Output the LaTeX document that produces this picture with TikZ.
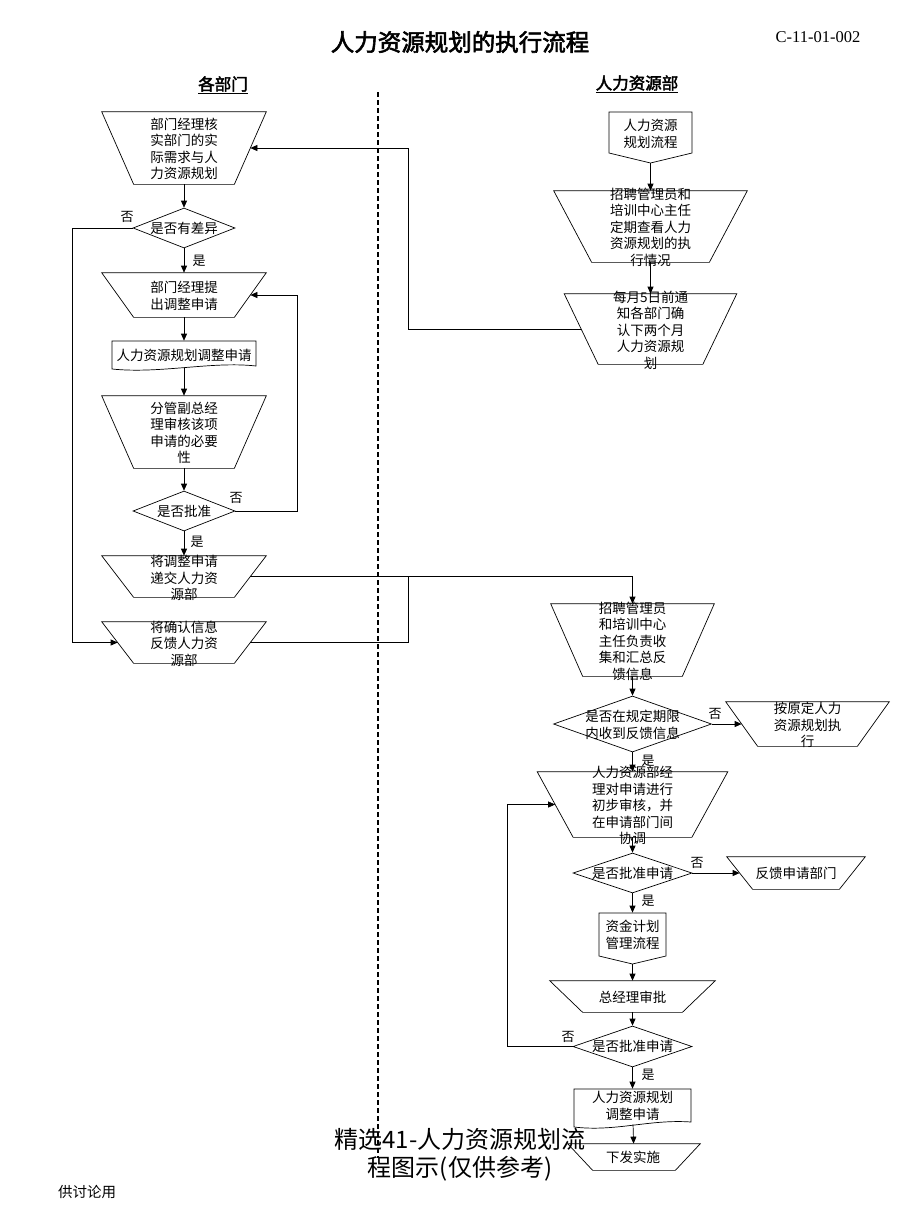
\documentclass[tikz,border=0pt]{standalone}
\usepackage{fontspec}
\setmainfont{Liberation Serif}
\newfontfamily\cjk[AutoFakeBold=2.5]{Noto Sans CJK SC}
\usetikzlibrary{shapes.geometric,arrows.meta,calc}
% trapezoid: name, x, y, top width, height, inset of the bottom corners
\newcommand{\trapz}[6]{%
  \node[box, minimum width=#4pt, minimum height=#5pt] (#1) at (#2,#3) {};
  \draw (#1.north west) -- (#1.north east) -- ([xshift=-#6pt]#1.south east) -- ([xshift=#6pt]#1.south west) -- cycle;}
\begin{document}
\begin{tikzpicture}[x=1pt,y=-1pt,
  line width=0.7pt,
  arr/.style={-{Triangle[length=7pt,width=6pt]}},
  dia/.style={diamond, draw, inner sep=0pt},
  box/.style={draw=none, inner sep=0pt},
  txt/.style={font=\cjk\fontsize{13.5}{16.5}\selectfont, align=center, inner sep=0pt},
  lbl/.style={font=\cjk\fontsize{13}{15}\selectfont, inner sep=0pt},
  head/.style={font=\cjk\bfseries\fontsize{16.5}{18}\selectfont, inner sep=0pt},
]
\fill[white] (0,0) rectangle (920,1227);
\useasboundingbox (0,0) rectangle (920,1227);

% titles
\node[font=\cjk\bfseries\fontsize{23.5}{26}\selectfont, inner sep=0pt] (title) at (460,42) {人力资源规划的执行流程};
\node[font=\fontsize{16.5}{18}\selectfont, inner sep=0pt] (code) at (818,37) {C-11-01-002};
\node[head] (h1) at (223,85) {\underline{各部门}};
\node[head] (h2) at (637,84) {\underline{人力资源部}};

% swimlane divider
\coordinate (dtop) at (378,92);
\coordinate (dbot) at (378,1158);
\draw[line width=1.1pt, dash pattern=on 5pt off 3pt] (dtop) -- (dbot);

% ---------------- left column ----------------
\trapz{A}{184}{148}{164}{72}{32}
\node[txt] (At) at (184,149) {部门经理核\\实部门的实\\际需求与人\\力资源规划};

\node[dia, minimum width=102pt, minimum height=40pt] (D1) at (184,228) {};
\node[txt] (D1t) at (184,228) {是否有差异};

\trapz{B}{184}{295}{164}{44}{32}
\node[txt] (Bt) at (184,296) {部门经理提\\出调整申请};

\node[box, minimum width=144pt, minimum height=27pt] (C) at (184,354.5) {};
\draw (112,341) -- (256,341) -- (256,366) .. controls (212,361) and (160,374) .. (112,369) -- cycle;
\node[txt] (Ct) at (184,355) {人力资源规划调整申请};

\trapz{D}{184}{432}{164}{72}{32}
\node[txt] (Dt) at (184,433) {分管副总经\\理审核该项\\申请的必要\\性};

\node[dia, minimum width=102pt, minimum height=40pt] (D3) at (184,511) {};
\node[txt] (D3t) at (184,511) {是否批准};

\trapz{E}{184}{576.5}{164}{41}{32}
\node[txt] (Et) at (184,578) {将调整申请\\递交人力资\\源部};

\trapz{F}{184}{642.5}{164}{41}{32}
\node[txt] (Ft) at (184,643.5) {将确认信息\\反馈人力资\\源部};

% ---------------- right column (top) ----------------
\node[box, minimum width=83pt, minimum height=51pt] (R1) at (650.5,137.5) {};
\draw (609,112) -- (692,112) -- (692,153) -- (650.5,163) -- (609,153) -- cycle;
\node[txt] (R1t) at (650.5,134) {人力资源\\规划流程};

\trapz{H}{650.5}{226.5}{193}{71}{38}
\node[txt] (Ht) at (650.5,227) {招聘管理员和\\培训中心主任\\定期查看人力\\资源规划的执\\行情况};

\trapz{I}{650.5}{329}{172}{70}{34}
\node[txt] (It) at (650.5,330) {每月5日前通\\知各部门确\\认下两个月\\人力资源规\\划};

% ---------------- right column (bottom) ----------------
\trapz{G}{632.5}{640}{163}{72}{32}
\node[txt] (Gt) at (632.5,641) {招聘管理员\\和培训中心\\主任负责收\\集和汇总反\\馈信息};

\node[dia, minimum width=158pt, minimum height=56pt] (D4) at (632.5,724) {};
\node[txt] (D4t) at (632.5,725) {是否在规定期限\\内收到反馈信息};

\trapz{J}{807.5}{724}{163}{44}{32}
\node[txt] (Jt) at (807.5,725) {按原定人力\\资源规划执\\行};

\trapz{K}{632.5}{804.5}{190}{65}{36}
\node[txt] (Kt) at (632.5,805.5) {人力资源部经\\理对申请进行\\初步审核，并\\在申请部门间\\协调};

\node[dia, minimum width=119pt, minimum height=40pt] (D5) at (632.5,873) {};
\node[txt] (D5t) at (632.5,873) {是否批准申请};

\trapz{L}{796}{873}{138}{32}{26}
\node[txt] (Lt) at (796,873) {反馈申请部门};

\node[box, minimum width=67pt, minimum height=51pt] (M) at (632.5,938.5) {};
\draw (599,913) -- (666,913) -- (666,956) -- (632.5,964) -- (599,956) -- cycle;
\node[txt] (Mt) at (632.5,935) {资金计划\\管理流程};

\trapz{N}{632.5}{996.5}{165}{31}{33}
\node[txt] (Nt) at (632.5,997) {总经理审批};

\node[dia, minimum width=119pt, minimum height=41pt] (D6) at (632.5,1046.5) {};
\node[txt] (D6t) at (632.5,1046.5) {是否批准申请};

\node[box, minimum width=117pt, minimum height=35pt] (O) at (632.5,1106.5) {};
\draw (574,1089) -- (691,1089) -- (691,1122) .. controls (650,1119) and (615,1132) .. (574,1127) -- cycle;
\node[txt] (Ot) at (632.5,1106) {人力资源规划\\调整申请};

\trapz{P}{634}{1157}{132}{26}{25}
\node[txt] (Pt) at (633,1157) {下发实施};

% ---------------- connectors ----------------
\draw[arr] (R1) -- (H);
\draw[arr] (H) -- (I);
\draw[arr] ([xshift=17pt]I.west) -- (408,329) -- (408,148) -- ([xshift=-16pt]A.east);

\draw[arr] (A) -- (D1);
\draw[arr] (D1) -- (B);
\draw[arr] (D1.west) -- (72,228) |- ([xshift=16pt]F.west);
\draw[arr] (B) -- (C);
\draw[arr] (C) -- (D);
\draw[arr] (D) -- (D3);
\draw[arr] (D3.east) -- (297,511) |- ([xshift=-16pt]B.east);
\draw[arr] (D3) -- (E);
\draw[arr] ([xshift=-16pt]E.east) -| (G);
\draw ([xshift=-16pt]F.east) -| (408,576.5);

\draw[arr] (G) -- (D4);
\draw[arr] (D4) -- ([xshift=16pt]J.west);
\draw[arr] (D4) -- (K);
\draw[arr] (K) -- (D5);
\draw[arr] (D5) -- ([xshift=13pt]L.west);
\draw[arr] (D5) -- (M);
\draw[arr] (M) -- (N);
\draw[arr] (N) -- (D6);
\draw[arr] (D6.west) -- (507,1046.5) |- ([xshift=18pt]K.west);
\draw[arr] (D6) -- (O);
\draw[arr] (O) -- (P);

% yes / no labels
\node[lbl] (n1) at (127,217) {否};
\node[lbl] (y1) at (199,261) {是};
\node[lbl] (n2) at (236,498) {否};
\node[lbl] (y2) at (197,542) {是};
\node[lbl] (n3) at (715,714) {否};
\node[lbl] (y3) at (648,761) {是};
\node[lbl] (n4) at (697,863) {否};
\node[lbl] (y4) at (648,901) {是};
\node[lbl] (n5) at (568,1037) {否};
\node[lbl] (y5) at (648,1075) {是};

% footer
\node[font=\cjk\fontsize{24}{28}\selectfont, align=center, inner sep=0pt] (foot) at (460,1155) {精选41-人力资源规划流\\程图示(仅供参考)};
\node[font=\cjk\fontsize{14.5}{16}\selectfont, inner sep=0pt] (disc) at (87,1192) {供讨论用};
\end{tikzpicture}
\end{document}
